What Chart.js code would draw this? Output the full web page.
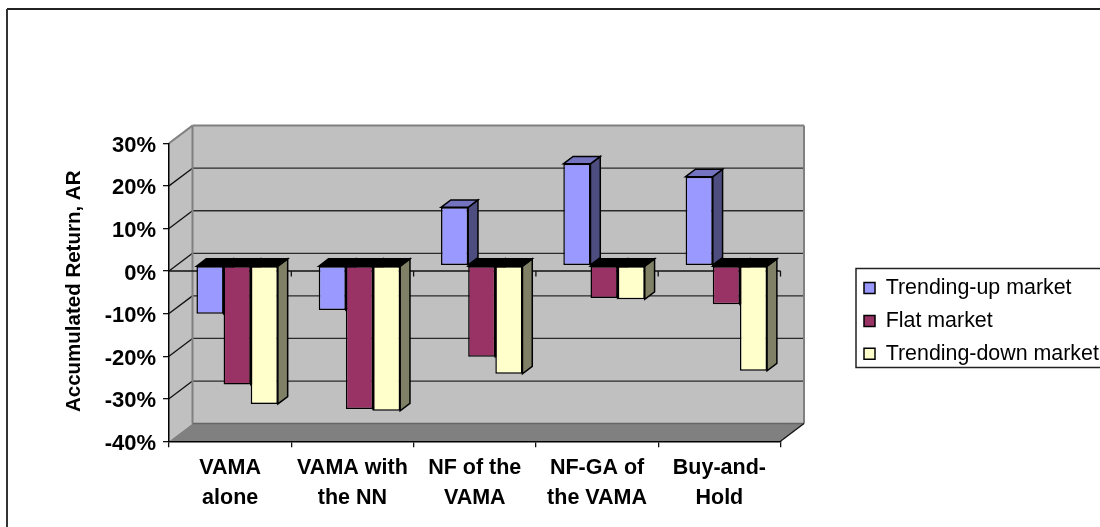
<!DOCTYPE html>
<html>
<head>
<meta charset="utf-8">
<script src="https://cdn.jsdelivr.net/npm/chart.js@4"></script>
<style>
  html, body { margin: 0; padding: 0; background: #fff; }
  #wrap { width: 1100px; height: 527px; }
</style>
</head>
<body>
<div id="wrap"><canvas id="myChart"></canvas></div>
<script>
var categories = [['VAMA', 'alone'], ['VAMA with', 'the NN'], ['NF of the', 'VAMA'], ['NF-GA of', 'the VAMA'], ['Buy-and-', 'Hold']]
var seriesNames = ['Trending-up market', 'Flat market', 'Trending-down market']
var trendingUp = [-11.3, -10.4, 13.7, 23.9, 20.9]
var flat = [-27.9, -33.7, -21.4, -7.6, -9.1]
var trendingDown = [-32.5, -34.1, -25.4, -7.9, -24.7]

// 3d look: wall depth, and how far the bars sit behind the front plane
var wallDx = 23.5, wallDy = -17.7
var barDx = 7, barDy = -5.4
var depthDx = 9.8, depthDy = -7.4
var sideColors = ['#4d4d80', '#4d1a33', '#808066']
var topColors = ['#7373bf', '#000000', '#000000']

function poly(c, pts, fill, stroke, width) {
  c.beginPath()
  c.moveTo(pts[0][0], pts[0][1])
  for (var i = 1; i < pts.length; i++) c.lineTo(pts[i][0], pts[i][1])
  c.closePath()
  if (fill) { c.fillStyle = fill; c.fill() }
  if (stroke) { c.strokeStyle = stroke; c.lineWidth = width; c.stroke() }
}

function line(c, x1, y1, x2, y2, color, width) {
  c.beginPath()
  c.moveTo(x1, y1)
  c.lineTo(x2, y2)
  c.strokeStyle = color
  c.lineWidth = width
  c.stroke()
}

var excel3d = {
  id: 'excel3d',
  afterLayout: function (chart) {
    // legend sits outside the plot, move it there
    var l = chart.legend
    var w = l.width, h = l.height
    l.left = 852.5
    l.top = 265.8
    l.right = l.left + w
    l.bottom = l.top + h + 20
    // axis title is a little off the plot centre in the original
    var y = chart.scales.y
    if (!y.titleMoved) {
      var drawTitle = y.drawTitle
      y.drawTitle = function () {
        chart.ctx.save()
        chart.ctx.translate(2, -1)
        drawTitle.call(y)
        chart.ctx.restore()
      }
      y.titleMoved = true
    }
  },
  beforeDraw: function (chart) {
    var c = chart.ctx
    var a = chart.chartArea
    var y = chart.scales.y
    c.save()
    // outer frame, only top and left are on the page
    line(c, 7, 9, 1100, 9, '#222', 2)
    line(c, 7, 9, 7, 527, '#333', 2)
    // legend frame
    c.strokeStyle = '#222'
    c.lineWidth = 1.5
    c.strokeRect(856, 268.5, 260, 99)

    var bl = a.left + wallDx, br = a.right + wallDx
    var bt = a.top + wallDy, bb = a.bottom + wallDy
    poly(c, [[bl, bt], [br, bt], [br, bb], [bl, bb]], '#c0c0c0')
    poly(c, [[a.left, a.top], [bl, bt], [bl, bb], [a.left, a.bottom]], '#c0c0c0')
    poly(c, [[a.left, a.bottom], [a.right, a.bottom], [br, bb], [bl, bb]], '#808080')

    y.ticks.forEach(function (t) {
      var py = y.getPixelForValue(t.value)
      if (t.value == y.min || t.value == y.max) return
      line(c, a.left, py, bl, py + wallDy, '#111', 1.3)
      line(c, bl, py + wallDy, br, py + wallDy, '#2a2a2a', 1.3)
    })
    // wall edges
    line(c, a.left, a.top, bl, bt, '#808080', 2)
    line(c, bl, bt, br, bt, '#808080', 2)
    line(c, br, bt, br, bb, '#808080', 2)
    line(c, bl, bt, bl, bb, '#808080', 2)
    line(c, bl, bb, br, bb, '#666', 1.5)
    line(c, a.right, a.bottom, br, bb, '#111', 1.3)
    c.restore()
  },
  beforeDatasetsDraw: function (chart) {
    var c = chart.ctx
    var a = chart.chartArea
    // front axis line at 0% with its small ticks, the bars cover it
    var y0 = chart.scales.y.getPixelForValue(0)
    var step = (a.right - a.left) / categories.length
    line(c, a.left, y0, a.right, y0, '#111', 1.3)
    for (var n = 1; n <= categories.length; n++) {
      line(c, a.left + n * step, y0, a.left + n * step, y0 + 5.5, '#111', 1.3)
    }

    c.save()
    c.translate(barDx, barDy)
    c.lineJoin = 'miter'
    for (var i = 0; i < categories.length; i++) {
      for (var d = 0; d < chart.data.datasets.length; d++) {
        var el = chart.getDatasetMeta(d).data[i]
        var p = el.getProps(['x', 'y', 'base', 'width'], true)
        var x1 = p.x - p.width / 2, x2 = p.x + p.width / 2
        var top = Math.min(p.y, p.base), bottom = Math.max(p.y, p.base)
        // a falling bar shows its dark underside on top
        var topColor = chart.data.datasets[d].data[i] < 0 ? '#000000' : topColors[d]
        poly(c, [[x2, top], [x2 + depthDx, top + depthDy], [x2 + depthDx, bottom + depthDy], [x2, bottom]], sideColors[d], '#000', 1.5)
        poly(c, [[x1, top], [x1 + depthDx, top + depthDy], [x2 + depthDx, top + depthDy], [x2, top]], topColor, '#000', 1.5)
      }
    }
  },
  afterDatasetsDraw: function (chart) {
    chart.ctx.restore()
  }
}

Chart.defaults.font.family = '"Liberation Sans", Arial, sans-serif'
Chart.defaults.color = '#000'

const ctx = document.getElementById('myChart')
var a = new Chart(ctx, {
  type: 'bar',
  data: {
    labels: categories,
    datasets: [
      { label: seriesNames[0], data: trendingUp, backgroundColor: '#9999ff' },
      { label: seriesNames[1], data: flat, backgroundColor: '#993366' },
      { label: seriesNames[2], data: trendingDown, backgroundColor: '#ffffcc' }
    ]
  },
  plugins: [excel3d],
  options: {
    animation: false,
    responsive: true,
    maintainAspectRatio: false,
    datasets: {
      bar: {
        borderColor: '#000',
        borderWidth: 1.5,
        borderSkipped: false,
        categoryPercentage: 0.666,
        barPercentage: 1,
        clip: false
      }
    },
    layout: { padding: { left: 0, right: 319.5, top: 143.3, bottom: 0 } },
    plugins: {
      legend: {
        position: 'chartArea',
        align: 'start',
        labels: {
          boxWidth: 11,
          boxHeight: 11,
          padding: 11.5,
          color: '#000',
          font: { size: 21.4 }
        }
      },
      tooltip: { enabled: false }
    },
    scales: {
      x: {
        afterFit: function (s) { s.height = 85.7 },
        border: { color: '#000', width: 1.5 },
        grid: { drawOnChartArea: false, drawTicks: true, tickLength: 6, color: '#111', lineWidth: 1.3 },
        ticks: {
          maxRotation: 0,
          autoSkip: false,
          padding: 6,
          font: { size: 21.5, weight: 'bold', lineHeight: 1.39 }
        }
      },
      y: {
        min: -40,
        max: 30,
        afterFit: function (s) { s.width = 169 },
        border: { color: '#000', width: 1.5 },
        grid: { drawOnChartArea: false, drawTicks: true, tickLength: 6, color: '#111', lineWidth: 1.3 },
        title: {
          display: true,
          text: 'Accumulated Return, AR',
          padding: { top: 60, bottom: 0 },
          font: { size: 20.5, weight: 'bold' }
        },
        ticks: {
          stepSize: 10,
          padding: 7,
          labelOffset: 2.5,
          font: { size: 22, weight: 'bold' },
          callback: function (v) { return v + '%' }
        }
      }
    }
  }
})
</script>
</body>
</html>
